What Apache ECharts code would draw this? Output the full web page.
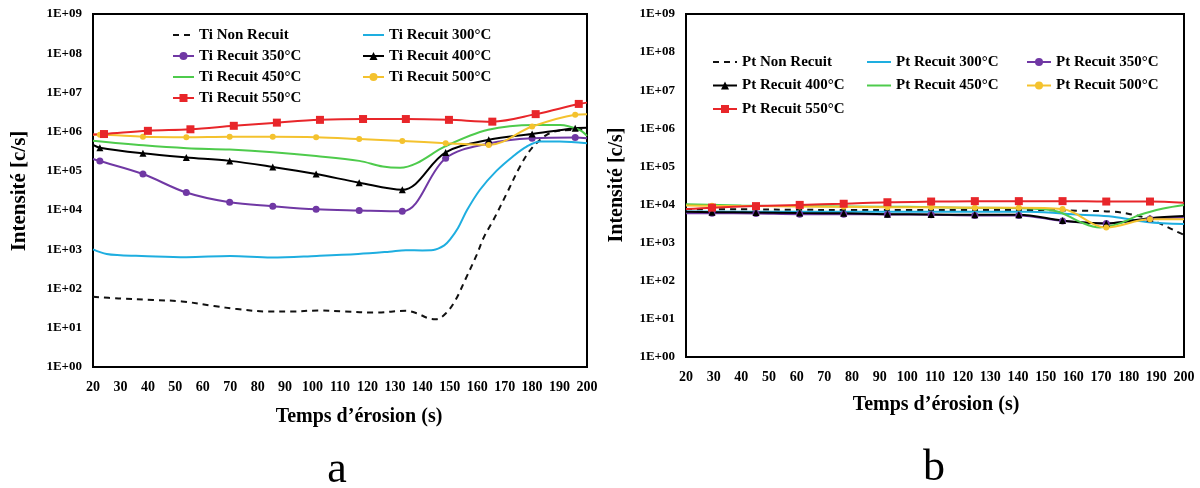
<!DOCTYPE html>
<html>
<head>
<meta charset="utf-8">
<script src="https://cdn.jsdelivr.net/npm/echarts@6/dist/echarts.min.js"></script>
<style>html,body{margin:0;padding:0;background:#fff}#c{width:1200px;height:488px}</style>
</head>
<body>
<div id="c"></div>
<script>
// ---------- DATA (a) : Ti ----------
const X_MIN = 20, X_MAX = 200;
const X_TICKS = [20,30,40,50,60,70,80,90,100,110,120,130,140,150,160,170,180,190,200];
const Y_TICK_LABELS = ['1E+00','1E+01','1E+02','1E+03','1E+04','1E+05','1E+06','1E+07','1E+08','1E+09'];

const TI_NAMES = ['Ti Non Recuit','Ti Recuit 300°C','Ti Recuit 350°C','Ti Recuit 400°C','Ti Recuit 450°C','Ti Recuit 500°C','Ti Recuit 550°C'];
const TI_T_MARK = [20, 22.5, 38.2, 54, 69.8, 85.5, 101.3, 117, 132.7, 148.5, 164.2, 180, 195.7, 200];
const TI_T_RED  = [20, 24, 40, 55.5, 71.3, 87, 102.7, 118.4, 134, 149.7, 165.5, 181.3, 197, 200];

const TI_NR_T = [20, 29.3, 41.9, 52.4, 64.1, 72.5, 83.8, 92, 101.9, 111.6, 122.8, 134, 138, 142.3, 145.1, 148.6, 152.1, 155.6, 159.8, 162.5, 165.9, 170.8, 175.6, 179.9, 185.3, 190.2, 200];
const TI_NR_V = [62, 56, 51, 47, 36, 30, 26, 26, 27.5, 26, 24.5, 27, 23.4, 17.4, 16.6, 23.4, 51, 166, 720, 2100, 5600, 27000, 130000, 380000, 830000, 1070000, 1120000];

const TI_300_T = [20, 25, 30, 37.7, 54, 70, 85, 101.5, 116.6, 128, 134, 140, 144, 148, 150, 153, 156.3, 161, 167, 173, 178, 183, 190, 200];
const TI_300_V = [1000, 760, 710, 680, 630, 680, 620, 680, 760, 870, 950, 940, 960, 1260, 1740, 3500, 10000, 33000, 100000, 234000, 417000, 560000, 560000, 510000];

const TI_350_V = [2.0e5, 1.78e5, 8.3e4, 2.8e4, 1.58e4, 1.26e4, 1.05e4, 9.8e3, 9.3e3, 2.1e5, 5.0e5, 6.8e5, 7.1e5, 6.8e5];
const TI_400_V = [4.6e5, 3.9e5, 2.8e5, 2.2e5, 1.8e5, 1.26e5, 8.3e4, 5.0e4, 3.3e4, 2.95e5, 6.2e5, 8.7e5, 1.23e6, 1.26e6];

const TI_450_T = [20, 38.4, 54.2, 69.8, 85.6, 101.3, 117, 125.6, 131.9, 138, 148.3, 164, 181, 190.2, 197.1, 200];
const TI_450_V = [5.9e5, 4.5e5, 3.8e5, 3.5e5, 3.0e5, 2.4e5, 1.8e5, 1.29e5, 1.2e5, 1.58e5, 4.2e5, 1.12e6, 1.48e6, 1.48e6, 1.12e6, 7.8e5];

const TI_500_V = [8.3e5, 8.3e5, 7.4e5, 7.2e5, 7.4e5, 7.4e5, 7.2e5, 6.5e5, 5.8e5, 5.1e5, 4.6e5, 1.35e6, 2.7e6, 2.8e6];
const TI_550_V = [8.5e5, 8.7e5, 1.05e6, 1.15e6, 1.41e6, 1.7e6, 2.0e6, 2.1e6, 2.1e6, 2.0e6, 1.8e6, 2.8e6, 5.1e6, 5.5e6];

// ---------- DATA (b) : Pt ----------
const PT_NAMES = ['Pt Non Recuit','Pt Recuit 300°C','Pt Recuit 350°C','Pt Recuit 400°C','Pt Recuit 450°C','Pt Recuit 500°C','Pt Recuit 550°C'];
const PT_T_MARK = [20, 29.4, 45.3, 61.1, 77, 92.8, 108.6, 124.4, 140.3, 156.1, 171.9, 187.7, 200];

const PT_NR_T = [20, 40, 60, 80, 100, 120, 144.3, 162.4, 174.4, 180.5, 186.5, 192.5, 197.4, 200];
const PT_NR_V = [7.6e3, 7.5e3, 7.3e3, 7.2e3, 7.2e3, 7.2e3, 7.2e3, 6.9e3, 6.5e3, 5.6e3, 4.4e3, 2.9e3, 1.95e3, 1.6e3];

const PT_300_T = [20, 60, 100, 144.3, 162.4, 174.4, 186.5, 200];
const PT_300_V = [6.6e3, 6.5e3, 6.5e3, 6.5e3, 5.4e3, 4.8e3, 3.5e3, 3.1e3];

const PT_350_V = [5.9e3, 5.9e3, 5.8e3, 5.6e3, 5.6e3, 5.5e3, 5.4e3, 5.2e3, 5.2e3, 3.7e3, 3.2e3, 4.2e3, 4.6e3];
const PT_400_V = [6.5e3, 6.3e3, 6.2e3, 6.0e3, 5.9e3, 5.6e3, 5.5e3, 5.4e3, 5.4e3, 3.8e3, 3.2e3, 4.4e3, 5.0e3];

const PT_450_T = [20, 40, 60, 80, 100, 120, 144.3, 154.6, 162.4, 169.6, 176.8, 184.1, 192.5, 200];
const PT_450_V = [1.02e4, 9.4e3, 9.1e3, 8.9e3, 8.7e3, 8.3e3, 7.9e3, 6.5e3, 3.5e3, 2.5e3, 3.2e3, 5.4e3, 7.9e3, 9.8e3];

const PT_500_V = [9.5e3, 9.3e3, 9.1e3, 8.9e3, 8.7e3, 8.5e3, 8.5e3, 8.3e3, 8.3e3, 7.6e3, 2.5e3, 4.1e3, 4.1e3];
const PT_550_V = [7.6e3, 8.3e3, 9.1e3, 9.8e3, 1.05e4, 1.15e4, 1.2e4, 1.23e4, 1.23e4, 1.23e4, 1.2e4, 1.2e4, 1.12e4];

// ---------- STYLE ----------
const FONT = "'Liberation Serif', 'Times New Roman', serif";
const C = {
  nr: '#111111', c300: '#1eaee0', c350: '#7038a4', c400: '#000000',
  c450: '#4ecb4c', c500: '#f4c22e', c550: '#e8262a'
};
// series drawn without markers (their legend icon is a plain line)
const NO_MARKER = [TI_NAMES[0], TI_NAMES[1], TI_NAMES[4], PT_NAMES[0], PT_NAMES[1], PT_NAMES[4]];

function pts(ts, vs) {
  return ts.map((t, i) => (t === X_MIN || t === X_MAX)
    ? { value: [t, vs[i]], symbol: 'none' }
    : [t, vs[i]]);
}

function line(name, idx, ts, vs, color, opt) {
  opt = opt || {};
  return Object.assign({
    name: name, type: 'line', xAxisIndex: idx, yAxisIndex: idx,
    data: pts(ts, vs), smooth: 0.35,
    symbol: 'none', symbolSize: 7, showAllSymbol: true,
    lineStyle: { color: color, width: 2 },
    itemStyle: { color: color },
    emphasis: { disabled: true },
    animation: false, clip: true
  }, opt);
}

const series = [
  line(TI_NAMES[0], 0, TI_NR_T, TI_NR_V, C.nr, { lineStyle: { color: C.nr, width: 2, type: [6, 5] } }),
  line(TI_NAMES[1], 0, TI_300_T, TI_300_V, C.c300),
  line(TI_NAMES[2], 0, TI_T_MARK, TI_350_V, C.c350, { symbol: 'circle', symbolSize: 7 }),
  line(TI_NAMES[3], 0, TI_T_MARK, TI_400_V, C.c400, { symbol: 'triangle', symbolSize: 7 }),
  line(TI_NAMES[4], 0, TI_450_T, TI_450_V, C.c450),
  line(TI_NAMES[5], 0, TI_T_MARK, TI_500_V, C.c500, { symbol: 'circle', symbolSize: 6 }),
  line(TI_NAMES[6], 0, TI_T_RED, TI_550_V, C.c550, { symbol: 'rect', symbolSize: 8 }),

  line(PT_NAMES[0], 1, PT_NR_T, PT_NR_V, C.nr, { lineStyle: { color: C.nr, width: 2, type: [6, 5] } }),
  line(PT_NAMES[1], 1, PT_300_T, PT_300_V, C.c300),
  line(PT_NAMES[2], 1, PT_T_MARK, PT_350_V, C.c350, { symbol: 'circle', symbolSize: 7 }),
  line(PT_NAMES[3], 1, PT_T_MARK, PT_400_V, C.c400, { symbol: 'triangle', symbolSize: 7 }),
  line(PT_NAMES[4], 1, PT_450_T, PT_450_V, C.c450),
  line(PT_NAMES[5], 1, PT_T_MARK, PT_500_V, C.c500, { symbol: 'circle', symbolSize: 6 }),
  line(PT_NAMES[6], 1, PT_T_MARK, PT_550_V, C.c550, { symbol: 'rect', symbolSize: 8 })
];

function xAxis(idx) {
  return {
    type: 'value', gridIndex: idx, min: X_MIN, max: X_MAX, interval: 10,
    axisLine: { show: true, lineStyle: { color: '#000', width: 2 } },
    axisTick: { show: false }, splitLine: { show: false },
    axisLabel: { margin: 13, color: '#000', fontFamily: FONT, fontWeight: 'bold', fontSize: 14,
      formatter: v => X_TICKS.includes(v) ? String(v) : '' }
  };
}
function yAxis(idx) {
  return {
    type: 'log', gridIndex: idx, logBase: 10, min: 1, max: 1e9, splitNumber: 9,
    axisLine: { show: true, lineStyle: { color: '#000', width: 2 } },
    axisTick: { show: false }, splitLine: { show: false }, minorTick: { show: false },
    axisLabel: { margin: 11, color: '#000', fontFamily: FONT, fontWeight: 'bold', fontSize: 13,
      formatter: v => Y_TICK_LABELS[Math.round(Math.log10(v))] }
  };
}
function legendCol(names, left, top, gap, iw) {
  return {
    orient: 'vertical', left: left, top: top, itemGap: gap, itemWidth: iw, itemHeight: 10,
    selectedMode: false, padding: 0,
    data: names.map(n => NO_MARKER.includes(n) ? { name: n, itemStyle: { opacity: 0 } } : n),
    textStyle: { color: '#000', fontFamily: FONT, fontWeight: 'bold', fontSize: 15, lineHeight: 16 }
  };
}
function txt(text, x, y, size, bold, rot) {
  return {
    type: 'text', x: x, y: y, rotation: rot || 0,
    style: { text: text, fill: '#000', font: (bold ? 'bold ' : '') + size + 'px ' + FONT,
      textAlign: 'center', textVerticalAlign: 'middle' }
  };
}

const option = {
  backgroundColor: '#fff',
  animation: false,
  grid: [
    { left: 93, top: 14, width: 494, height: 353, show: true, borderColor: '#000', borderWidth: 2, backgroundColor: 'transparent' },
    { left: 686, top: 14, width: 498, height: 343, show: true, borderColor: '#000', borderWidth: 2, backgroundColor: 'transparent' }
  ],
  xAxis: [xAxis(0), xAxis(1)],
  yAxis: [yAxis(0), yAxis(1)],
  legend: [
    legendCol([TI_NAMES[0], TI_NAMES[2], TI_NAMES[4], TI_NAMES[6]], 172, 27, 5, 21),
    legendCol([TI_NAMES[1], TI_NAMES[3], TI_NAMES[5]], 362, 27, 5, 21),
    legendCol([PT_NAMES[0], PT_NAMES[3], PT_NAMES[6]], 712, 54, 7.5, 24),
    legendCol([PT_NAMES[1], PT_NAMES[4]], 866, 54, 7.5, 24),
    legendCol([PT_NAMES[2], PT_NAMES[5]], 1026, 54, 7.5, 24)
  ],
  graphic: [
    txt('Temps d’érosion (s)', 359, 417, 20, true),
    txt('Temps d’érosion (s)', 936, 405, 20, true),
    txt('Intensité [c/s]', 20, 191, 21, true, Math.PI / 2),
    txt('Intensité [c/s]', 617, 185, 20, true, Math.PI / 2),
    txt('a', 337, 470, 44, false),
    txt('b', 934, 468, 44, false)
  ],
  series: series
};

const chart = echarts.init(document.getElementById('c'), null, { renderer: 'canvas' });
chart.setOption(option);
</script>
</body>
</html>
